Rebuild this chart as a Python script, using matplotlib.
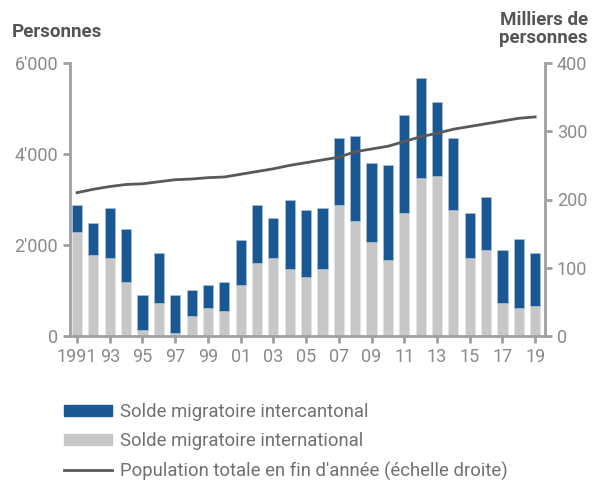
import numpy as np
import matplotlib.pyplot as plt
from matplotlib.patches import Patch
from matplotlib.lines import Line2D

plt.rcParams['font.family'] = ['Roboto', 'DejaVu Sans']

years = list(range(1991, 2020))
# total net migration (top of stacked bar) and international part
total = [2880, 2480, 2820, 2350, 895, 1830, 895, 1010, 1130, 1190,
         2120, 2880, 2590, 2990, 2760, 2820, 4345, 4395, 3810, 3760,
         4860, 5680, 5150, 4345, 2700, 3055, 1890, 2125, 1830]
international = [2290, 1775, 1715, 1190, 140, 720, 75, 430, 610, 550,
                 1130, 1600, 1715, 1480, 1305, 1480, 2880, 2530, 2065, 1665,
                 2705, 3465, 3525, 2760, 1715, 1890, 725, 610, 665]
intercantonal = [t - i for t, i in zip(total, international)]
# population at year end, thousands
population = [210, 215, 219, 222, 223, 226, 229, 230, 232, 233,
              237, 241, 245, 250, 254, 258, 262, 270, 274, 278,
              285, 292, 297, 303, 307, 311, 315, 319, 321]

xtick_years = list(range(1991, 2020, 2))
xtick_labels = ['1991'] + [f'{y % 100:02d}' for y in xtick_years[1:]]

blue = '#1a5894'
grey = '#c6c7c6'
line_c = '#58595b'
axis_c = '#a0a0a0'
tick_c = '#8a8a8a'

fig = plt.figure(figsize=(5.93, 4.84), dpi=100)
ax = fig.add_axes([70 / 593, 1 - 336 / 484, (545 - 70) / 593, (336 - 63) / 484])
ax2 = ax.twinx()

ax.bar(years, international, width=0.62, color=grey, edgecolor='#e4e4e4', linewidth=0.5)
ax.bar(years, intercantonal, width=0.62, bottom=international, color=blue,
       edgecolor='#a9bfd6', linewidth=0.5)
ax2.plot(years, population, color=line_c, lw=2)

ax.set_xlim(1990.57, 2019.6)
ax.set_ylim(0, 6000)
ax2.set_ylim(0, 400)

ax.set_yticks([0, 2000, 4000, 6000], ['0', "2'000", "4'000", "6'000"])
ax2.set_yticks([0, 100, 200, 300, 400], ['0', '100', '200', '300', '400'])
ax.set_xticks(xtick_years, xtick_labels)

for a in (ax, ax2):
    for s in a.spines.values():
        s.set_color(axis_c)
        s.set_linewidth(2)
    a.spines['top'].set_visible(False)
    a.tick_params(colors=axis_c, labelcolor=tick_c, labelsize=13, width=2, length=5)
ax.spines['right'].set_visible(False)
ax2.spines['left'].set_visible(False)
ax2.spines['bottom'].set_visible(False)
ax.tick_params(axis='x', pad=4)

fig.text(12 / 593, 1 - 32 / 484, 'Personnes', fontsize=13.5, fontweight='bold',
         color='#555555', va='center', ha='left')
fig.text(588 / 593, 1 - 29 / 484, 'Milliers de\npersonnes', fontsize=13.5,
         fontweight='bold', color='#555555', va='center', ha='right',
         multialignment='right', linespacing=0.95)

handles = [Patch(color=blue), Patch(color=grey), Line2D([], [], color=line_c, lw=2)]
labels = ['Solde migratoire intercantonal', 'Solde migratoire international',
          "Population totale en fin d'année (échelle droite)"]
leg = fig.legend(handles, labels, loc='upper left', bbox_to_anchor=(55 / 593, 1 - 394 / 484),
                 frameon=False, fontsize=13.3, handlelength=2.6, handleheight=0.55,
                 handletextpad=0.4, labelspacing=0.6, borderpad=0)
for t in leg.get_texts():
    t.set_color('#707070')

fig.savefig('out.png', dpi=100)
